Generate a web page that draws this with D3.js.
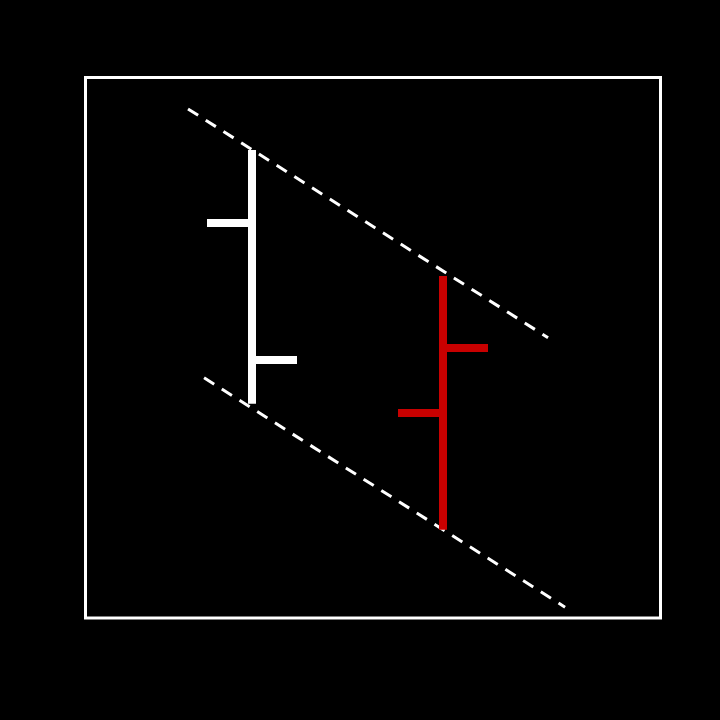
<!DOCTYPE html>
<html><head><meta charset="utf-8">
<script src="https://cdn.jsdelivr.net/npm/d3@7"></script>
<style>html,body{margin:0;padding:0;background:#000;}svg{display:block;}</style>
</head><body>
<svg id="chart" width="720" height="720"></svg>
<script>
// OHLC bars
const positions = [1, 2];
const highs  = [86.5, 63.2];
const opens  = [73.0, 37.9];
const closes = [47.7, 49.9];
const lows   = [39.6, 16.3];
const barColors = ["#ffffff", "#c80000"];
// dashed channel lines [x1, y1, x2, y2]
const upperLine = [0.665, 94.1, 2.550, 51.8];
const lowerLine = [0.749, 44.4, 2.639, 2.0];

(function(){
const svg = d3.select("#chart");
svg.append("rect").attr("width",720).attr("height",720).attr("fill","#000");
const pL = 85.5, pR = 660.5, pT = 77.5, pB = 618;
const x = d3.scaleLinear().domain([1 - (252-85.5)/191, 1 + (660.5-252)/191]).range([pL, pR]);
const y = d3.scaleLinear().domain([0, 100]).range([618, 77]);

svg.append("rect").attr("x",pL).attr("y",pT).attr("width",pR-pL).attr("height",pB-pT)
  .attr("fill","none").attr("stroke","#fff").attr("stroke-width",3);

[upperLine, lowerLine].forEach(l => {
  svg.append("line").attr("x1",x(l[0])).attr("y1",y(l[1])).attr("x2",x(l[2])).attr("y2",y(l[3]))
    .attr("stroke","#fff").attr("stroke-width",3).attr("stroke-dasharray","12 9");
});

const tick = 45;
positions.forEach((p,i) => {
  const g = svg.append("g").attr("stroke", barColors[i]).attr("stroke-width", 8);
  g.append("line").attr("x1",x(p)).attr("x2",x(p)).attr("y1",y(highs[i])).attr("y2",y(lows[i]));
  g.append("line").attr("x1",x(p)-tick).attr("x2",x(p)).attr("y1",y(opens[i])).attr("y2",y(opens[i]));
  g.append("line").attr("x1",x(p)).attr("x2",x(p)+tick).attr("y1",y(closes[i])).attr("y2",y(closes[i]));
});
})();
</script>
</body></html>
